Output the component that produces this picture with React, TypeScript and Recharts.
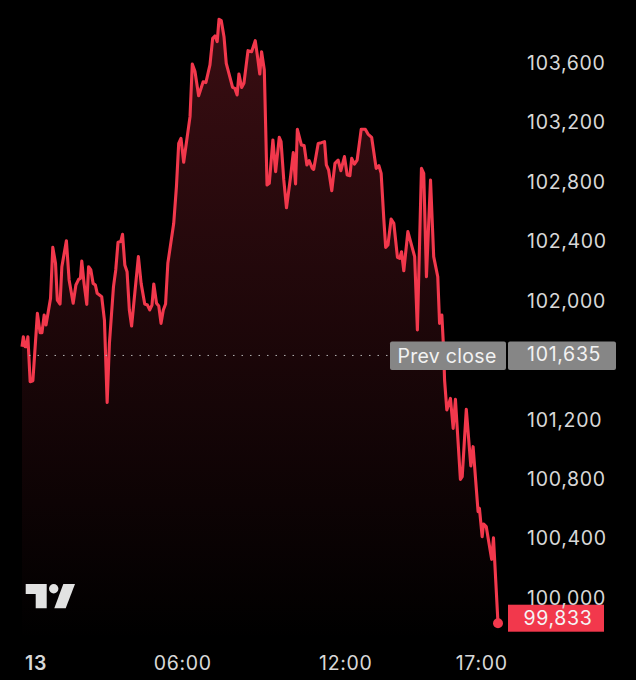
import { AreaChart, Area, XAxis, YAxis, ReferenceLine, ReferenceDot } from "recharts";

// minutes since midnight
const minutes = [
  5, 8, 12, 15, 18, 23, 29, 39, 45, 49, 54, 58, 68, 73, 79, 83, 89, 93, 103, 109,
  118, 124, 130, 134, 137, 142, 148, 152, 157, 162, 167, 171, 181, 187, 193, 198, 207, 212, 217, 223,
  227, 232, 237, 242, 247, 254, 262, 268, 276, 282, 287, 292, 296, 302, 307, 312, 317, 322, 327, 340,
  346, 351, 356, 362, 376, 381, 387, 395, 405, 411, 420, 426, 431, 436, 440, 445, 451, 456, 470, 475,
  480, 484, 490, 495, 504, 512, 520, 525, 530, 534, 540, 543, 546, 551, 559, 565, 573, 577, 583, 589,
  598, 604, 609, 613, 622, 628, 634, 639, 646, 649, 659, 666, 673, 677, 682, 689, 696, 703, 709, 717,
  723, 729, 733, 739, 745, 754, 763, 769, 777, 787, 793, 798, 804, 808, 813, 820, 826, 834, 839, 843,
  848, 857, 872, 878, 887, 892, 898, 907, 914, 923, 927, 932, 936, 938, 943, 951, 957, 962, 973, 977,
  986, 996, 1001, 1012, 1015, 1021, 1024, 1030, 1042, 1046, 1056,
];

const prices = [
  101694, 101761, 101694, 101694, 101761, 101458, 101465, 101918, 101788, 101788, 101907, 101840, 102019, 102362, 102255, 102008, 101981, 102232, 102407, 102143,
  101986, 102109, 102147, 102154, 102270, 102120, 101979, 102232, 102210, 102120, 102109, 102053, 102030, 101873, 101319, 101716, 102098, 102210, 102396, 102401,
  102450, 102244, 102199, 101941, 101833, 102053, 102300, 102120, 101981, 101974, 101941, 101974, 102116, 101986, 101968, 101851, 101941, 101981, 102255, 102524,
  102771, 103062, 103096, 102935, 103242, 103596, 103545, 103383, 103477, 103471, 103590, 103769, 103785, 103747, 103897, 103888, 103780, 103601, 103439, 103432,
  103388, 103529, 103439, 103466, 103686, 103679, 103753, 103646, 103529, 103679, 103556, 103175, 102782, 102793, 103085, 102872, 103103, 103074, 102816, 102629,
  102838, 103000, 102789, 103157, 103051, 103047, 102917, 102946, 102894, 102887, 103062, 103067, 103074, 102917, 102883, 102744, 102928, 102950, 102878, 102973,
  102849, 102845, 102961, 102923, 102950, 103157, 103157, 103125, 103103, 102894, 102912, 102860, 102546, 102362, 102378, 102553, 102524, 102295, 102288, 102333,
  102205, 102468, 102300, 101806, 102894, 102860, 102165, 102816, 102300, 102165, 101851, 101907, 101671, 101470, 101268, 101346, 101144, 101340, 100801, 100819,
  101272, 100891, 101021, 100584, 100606, 100415, 100501, 100483, 100263, 100408, 99833,
];

const priceTicks = [100000, 100400, 100800, 101200, 102000, 102400, 102800, 103200, 103600];
const timeTicks = [36, 360, 720, 1020];
const timeLabels = ["13", "06:00", "12:00", "17:00"];

const prevClose = 101635;
const lastPrice = 99833;
const lastMinute = 1056;

const rows = minutes.map((m, i) => ({ minute: m, price: prices[i] }));

const RED = "#f2384c";
const LABEL = "#d8d8d8";
const FONT = "Inter, 'Noto Sans', sans-serif";
const SIZE = 19.5;
const SPACING = 0.7;

const fmt = (v: number) => v.toLocaleString("en-US");

function PriceTick({ x, y, payload }: any) {
  return (
    <text x={x + 21} y={y} dy={6.5} fontFamily={FONT} fontSize={SIZE} letterSpacing={SPACING} fill={LABEL}>
      {fmt(payload.value)}
    </text>
  );
}

function TimeTick({ x, y, payload }: any) {
  const i = timeTicks.indexOf(payload.value);
  return (
    <text
      x={x}
      y={y}
      dy={22}
      textAnchor="middle"
      fontFamily={FONT}
      fontSize={SIZE}
      fontWeight={i === 0 ? 600 : 400}
      letterSpacing={SPACING}
      fill={LABEL}
    >
      {timeLabels[i]}
    </text>
  );
}

function PrevCloseTag({ viewBox }: any) {
  const y = viewBox.y;
  const right = viewBox.x + viewBox.width;
  return (
    <g fontFamily={FONT} fontSize={SIZE} fill="#f2f2f2">
      <rect x={right - 108} y={y - 14} width={116} height={28.5} rx={2} fill="#868686" />
      <rect x={right + 10} y={y - 14} width={108} height={28.5} rx={2} fill="#868686" />
      <text x={right - 51} y={y + 8} textAnchor="middle" letterSpacing={0.3}>Prev close</text>
      <text x={right + 29} y={y + 6} letterSpacing={SPACING}>{fmt(prevClose)}</text>
    </g>
  );
}

function LastPriceMark({ cx, cy }: any) {
  return (
    <g>
      <circle cx={cx} cy={cy} r={5} fill={RED} />
      <rect x={cx + 10} y={cy - 18.5} width={96} height={27} fill={RED} />
      <text
        x={cx + 60}
        y={cy + 1.5}
        textAnchor="middle"
        fontFamily={FONT}
        fontSize={SIZE}
        letterSpacing={SPACING}
        fill="#f5f5f5"
      >
        {fmt(lastPrice)}
      </text>
    </g>
  );
}

export default function App() {
  return (
    <div style={{ position: "absolute", left: 0, top: 0, width: 636, height: 680, background: "#000", overflow: "hidden" }}>
      <AreaChart width={636} height={680} data={rows} margin={{ top: 0, right: 0, bottom: 0, left: 22 }}>
        <defs>
          <linearGradient id="fade" x1="0" y1="0" x2="0" y2="1">
            <stop offset="0%" stopColor={RED} stopOpacity={0.4} />
            <stop offset="50%" stopColor={RED} stopOpacity={0.2} />
            <stop offset="100%" stopColor={RED} stopOpacity={0} />
          </linearGradient>
        </defs>
        <XAxis
          dataKey="minute"
          type="number"
          domain={[5, lastMinute]}
          ticks={timeTicks}
          interval={0}
          height={40}
          tick={TimeTick}
          axisLine={false}
          tickLine={false}
        />
        <YAxis
          orientation="right"
          width={138}
          domain={[99720, 104027]}
          ticks={priceTicks}
          interval={0}
          tick={PriceTick}
          axisLine={false}
          tickLine={false}
        />
        <Area
          dataKey="price"
          type="linear"
          stroke={RED}
          strokeWidth={3.1}
          strokeLinejoin="round"
          fill="url(#fade)"
          isAnimationActive={false}
        />
        <ReferenceLine
          y={prevClose}
          stroke="#b5b5b5"
          strokeWidth={1}
          strokeDasharray="1.5 7"
          label={<PrevCloseTag />}
        />
        <ReferenceDot x={lastMinute} y={lastPrice} shape={LastPriceMark} />
      </AreaChart>
      <svg width={636} height={680} style={{ position: "absolute", left: 0, top: 0, pointerEvents: "none" }}>
        <g fill="#e2e2e2">
          <path d="M25.7 584H46.7V608.3H35.7V594H25.7Z" />
          <circle cx={53.7} cy={588.7} r={4.7} />
          <path d="M63.3 584H75L65.7 608.3H54.3Z" />
        </g>
      </svg>
    </div>
  );
}
